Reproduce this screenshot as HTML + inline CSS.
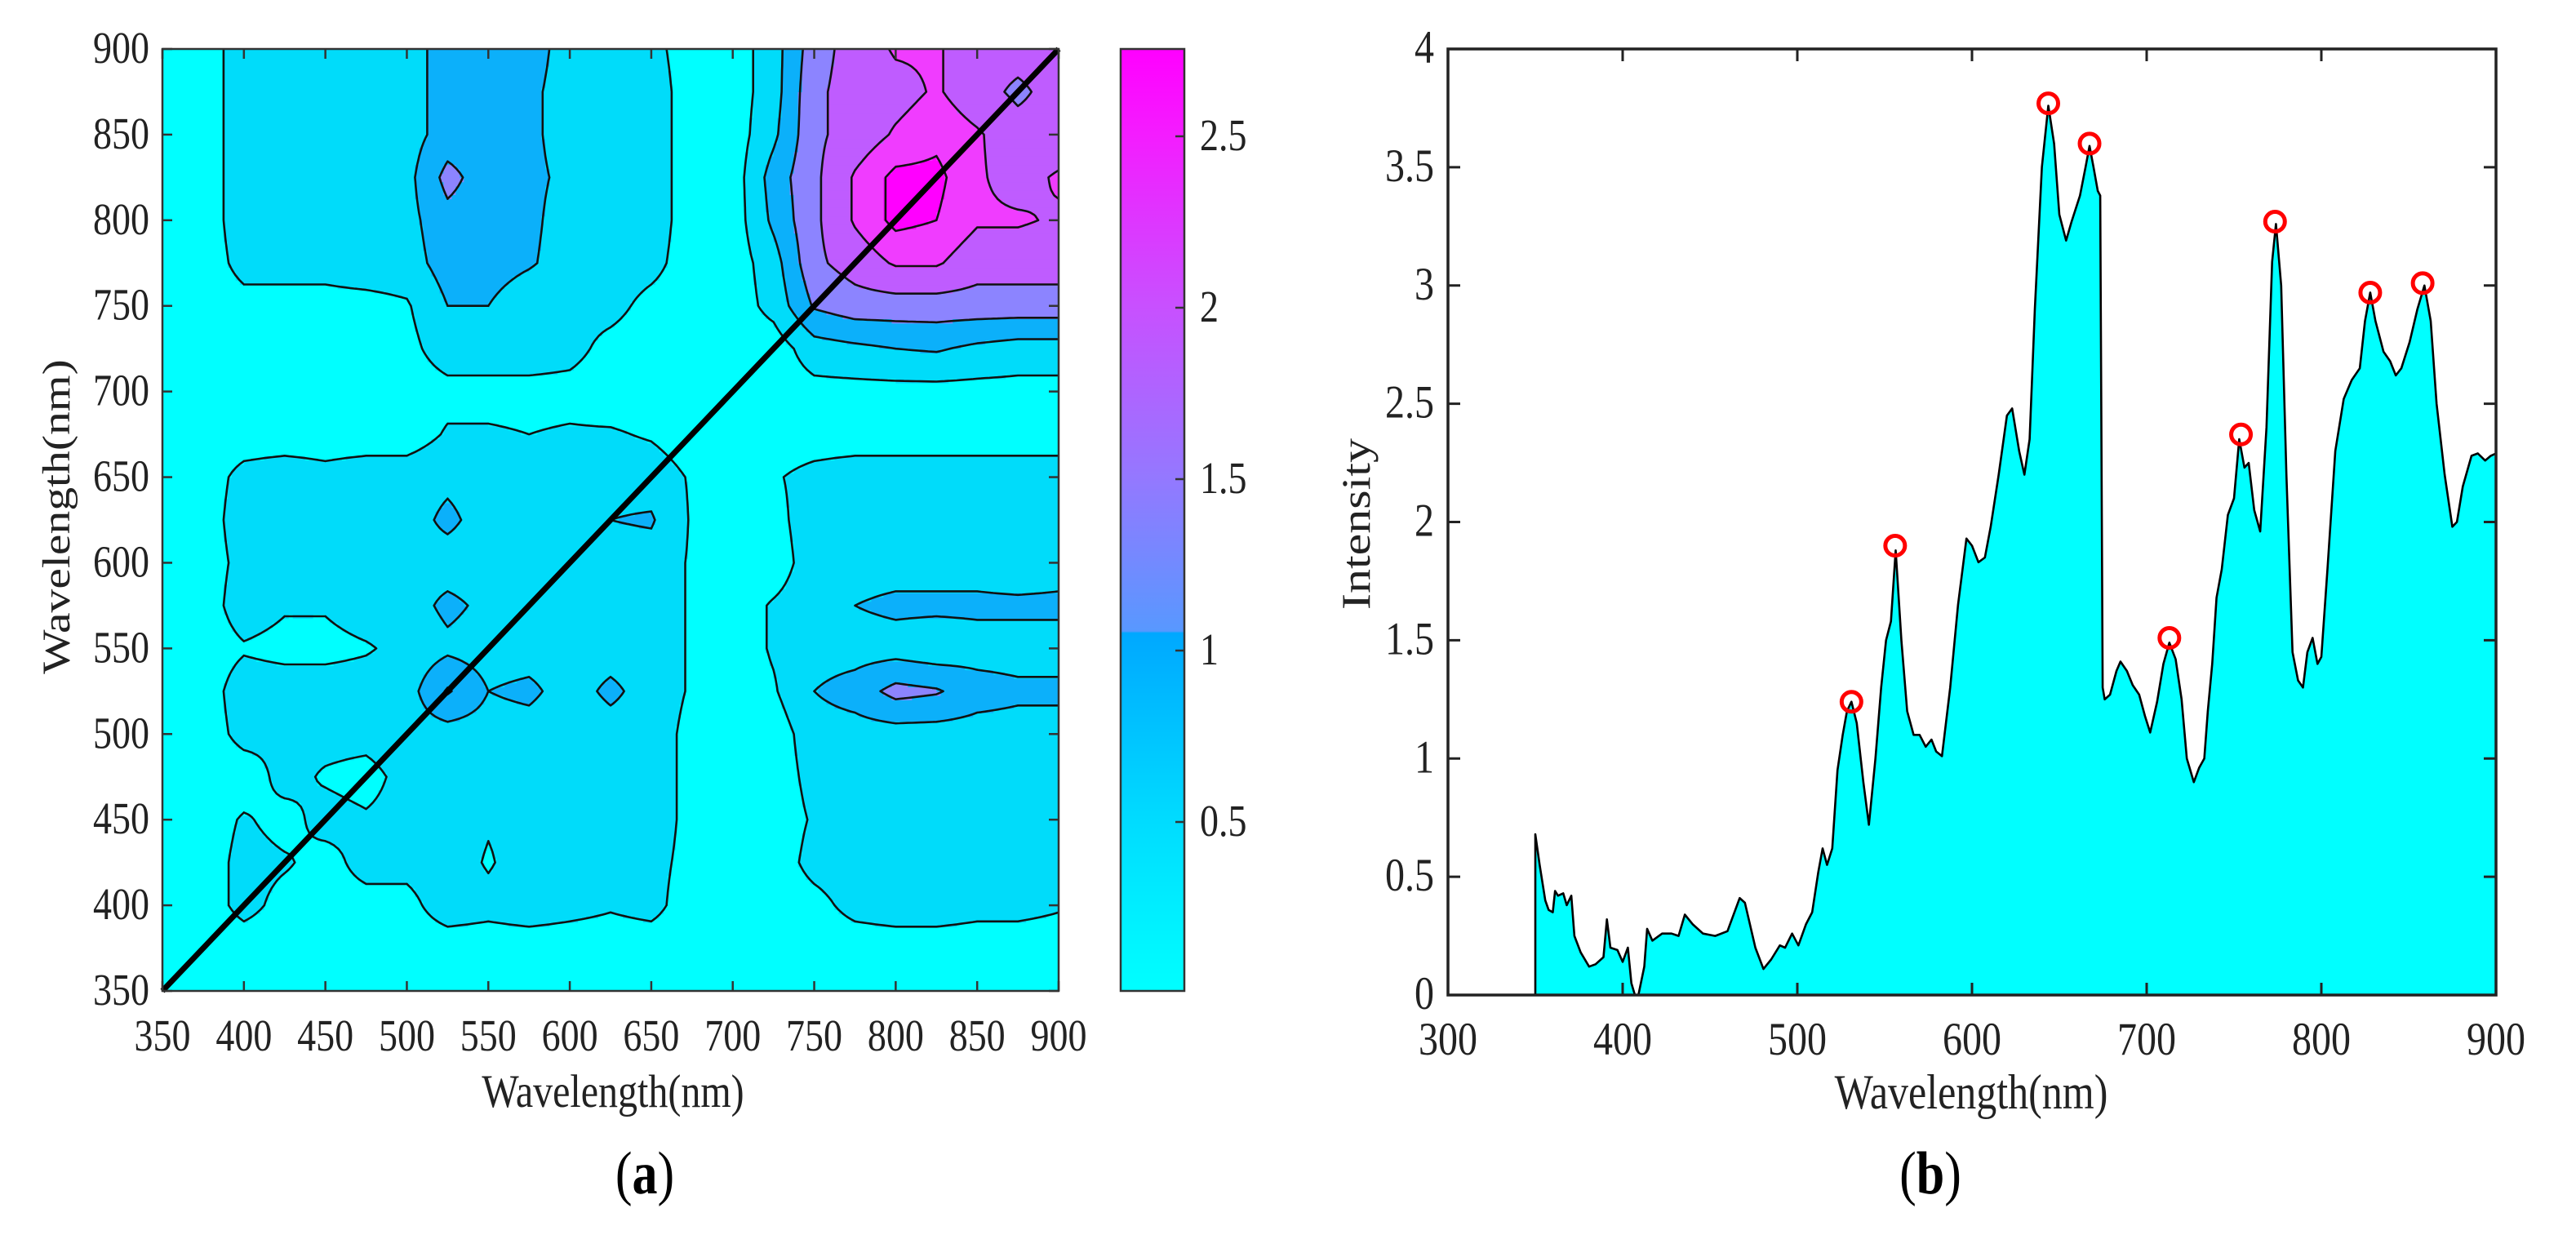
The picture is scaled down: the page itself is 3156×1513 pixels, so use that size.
<!DOCTYPE html>
<html><head><meta charset="utf-8"><title>2D correlation map and spectrum</title>
<style>
html,body{margin:0;padding:0;background:#fff;}
svg{display:block;}
text{font-family:"Liberation Serif","DejaVu Serif",serif;}
</style></head>
<body>
<svg id="fig" width="3156" height="1513" viewBox="0 0 3156 1513" xmlns="http://www.w3.org/2000/svg">
<defs>
<linearGradient id="cbgrad" x1="0" y1="1" x2="0" y2="0">
<stop offset="0" stop-color="#00ffff"/>
<stop offset="0.18" stop-color="#00dcff"/>
<stop offset="0.38" stop-color="#00a8ff"/>
<stop offset="0.382" stop-color="#5898ff"/>
<stop offset="0.545" stop-color="#9478ff"/>
<stop offset="0.727" stop-color="#c850ff"/>
<stop offset="0.91" stop-color="#f41cff"/>
<stop offset="1" stop-color="#ff00ff"/>
</linearGradient>
<clipPath id="clipA"><rect x="199" y="60" width="1098" height="1154"/></clipPath>
</defs>
<g id="panelA"></g>
<g id="panelB"></g>
</svg>
<script>
// ---------- Panel (a) data: 2D correlation map sampled every 25 nm ----------
const mapWavelengths = [350,375,400,425,450,475,500,525,550,575,600,625,650,675,700,725,750,775,800,825,850,875,900];
// rows from y = 900 nm (top) down to 350 nm (bottom); columns follow mapWavelengths
const mapRows = [
[.2,.2,.7,.7,.5,.7,.7,1.1,1.1,1.1,.7,.7,.6,.2,.2,.7,1.6,2.0,2.3,2.3,2.0,2.0,2.0],
[.2,.2,.7,.7,.5,.6,.7,1.1,1.1,1.0,.7,.7,.7,.2,.2,.7,1.7,2.0,2.1,2.3,2.0,1.7,2.0],
[.2,.2,.7,.7,.6,.7,.7,1.1,1.1,1.0,.7,.7,.7,.2,.2,.8,1.7,2.0,2.3,2.5,2.3,2.0,2.0],
[.2,.2,.7,.7,.7,.7,.75,1.5,1.1,1.0,.8,.7,.7,.2,.2,1.1,1.7,2.3,2.7,2.7,2.3,2.1,2.3],
[.2,.2,.7,.7,.7,.7,.75,1.2,1.1,1.0,.7,.7,.7,.2,.2,1.0,1.7,2.3,2.7,2.6,2.3,2.3,2.2],
[.2,.2,.6,.6,.6,.7,.7,1.1,1.1,.95,.7,.7,.6,.2,.2,.7,1.7,2.0,2.3,2.3,2.0,2.0,2.0],
[.2,.2,.3,.3,.3,.3,.4,.9,.9,.6,.6,.6,.3,.2,.2,.6,1.4,1.6,1.6,1.6,1.6,1.6,1.6],
[.2,.2,.2,.2,.2,.2,.3,.7,.7,.7,.6,.3,.2,.2,.2,.2,.7,.8,.9,.95,.8,.7,.7],
[.2,.2,.2,.2,.2,.2,.2,.3,.3,.3,.3,.2,.2,.2,.2,.2,.3,.3,.3,.3,.3,.3,.3],
[.2,.2,.2,.2,.2,.2,.2,.5,.5,.45,.5,.5,.4,.2,.2,.2,.2,.2,.2,.2,.2,.2,.2],
[.2,.2,.6,.7,.6,.7,.7,.8,.7,.7,.7,.75,.7,.4,.2,.4,.6,.7,.7,.7,.7,.7,.7],
[.2,.2,.7,.6,.5,.7,.7,1.0,.7,.7,.7,.9,.95,.4,.2,.3,.7,.7,.7,.7,.7,.7,.7],
[.2,.2,.6,.6,.6,.7,.8,.7,.7,.7,.5,.7,.7,.4,.2,.2,.7,.7,.7,.7,.7,.6,.7],
[.2,.2,.7,.5,.5,.7,.7,1.0,.8,.8,.7,.7,.7,.4,.2,.5,.7,.9,1.0,1.0,1.0,1.0,1.0],
[.2,.2,.4,.3,.3,.4,.6,.8,.7,.7,.7,.7,.7,.4,.2,.5,.7,.7,.7,.6,.7,.7,.7],
[.2,.2,.7,.7,.7,.7,.7,1.4,.9,1.0,.7,1.0,.7,.4,.2,.4,.9,1.1,1.5,1.4,1.1,1.0,1.0],
[.2,.2,.6,.5,.6,.6,.7,.7,.7,.7,.6,.7,.7,.3,.2,.2,.7,.7,.7,.7,.7,.7,.7],
[.2,.2,.2,.6,.4,.3,.6,.7,.7,.6,.6,.5,.7,.3,.2,.2,.6,.6,.7,.7,.7,.7,.7],
[.2,.2,.5,.3,.6,.5,.6,.7,.5,.6,.6,.6,.7,.3,.2,.2,.5,.7,.7,.7,.6,.5,.6],
[.2,.2,.6,.5,.3,.6,.6,.7,.4,.7,.6,.6,.6,.3,.2,.2,.6,.7,.7,.7,.7,.5,.6],
[.2,.2,.6,.3,.3,.3,.3,.7,.6,.7,.6,.5,.6,.2,.2,.2,.3,.6,.7,.7,.6,.6,.5],
[.2,.2,.2,.2,.2,.2,.2,.2,.2,.2,.2,.2,.2,.2,.2,.2,.2,.2,.2,.2,.2,.2,.2],
[.2,.2,.2,.2,.2,.2,.2,.2,.2,.2,.2,.2,.2,.2,.2,.2,.2,.2,.2,.2,.2,.2,.2]
];
const contourLevels = [0.45,0.9,1.35,1.8,2.25,2.6];
const mapTicks = [350,400,450,500,550,600,650,700,750,800,850,900];
const colorbarTicks = [0.5,1,1.5,2,2.5];

// ---------- Panel (b) data: spectrum ----------
const specWavelength = [350,350,352.5,355.7,357.6,360,361.3,363,366,368,370.6,372.4,376,380.8,384.5,389,391,393,397,400,403,405,407,409,412.4,414,417,422.6,428,432,435.6,440,446,453,460,467,470,476,480.6,485,490,493,497,500.6,505,508.5,512,514.5,517,520,523,526,528.4,531,534,537.8,541,544.7,548,550.8,553.6,556.3,559.6,562.9,566.6,570,573.5,576.8,579.5,582.8,587.5,592,596.8,600,603.7,607.4,610.7,615.3,620,623,627,630,633,636,640,643.7,647,650,653.9,657,661.8,665,667.3,669.6,672,673.4,674.8,676,679,682.7,685,688.7,692,695.7,699,702,706,709.6,713,716.6,720,723,727,730,733,735,737.5,740,743,746.5,750,753,756,758.4,761.6,765,768.6,771.8,774,777,780,783.5,786.7,789.5,792,795,797.8,800,803.5,808,812.8,817.4,822,825,828,831,835.6,839.4,842.6,845.8,850.5,855,859,862.6,866,870.6,875,877.6,881,886,889.6,893.8,897,900];
const specIntensity = [0,0.68,0.55,0.4,0.36,0.35,0.44,0.42,0.43,0.38,0.42,0.25,0.18,0.12,0.13,0.16,0.32,0.2,0.19,0.14,0.2,0.05,0,0,0.12,0.28,0.23,0.26,0.26,0.25,0.34,0.3,0.26,0.25,0.27,0.41,0.39,0.2,0.11,0.15,0.21,0.2,0.26,0.21,0.3,0.35,0.52,0.62,0.55,0.62,0.95,1.1,1.2,1.24,1.15,0.9,0.72,1.0,1.3,1.5,1.58,1.88,1.5,1.2,1.1,1.1,1.05,1.08,1.03,1.01,1.3,1.65,1.93,1.9,1.83,1.85,1.98,2.2,2.45,2.48,2.3,2.2,2.35,2.9,3.5,3.76,3.6,3.3,3.19,3.27,3.38,3.5,3.59,3.5,3.4,3.38,1.3,1.25,1.27,1.37,1.41,1.37,1.31,1.27,1.18,1.11,1.24,1.4,1.49,1.42,1.25,1.0,0.9,0.96,1.0,1.2,1.4,1.68,1.8,2.03,2.1,2.35,2.23,2.25,2.05,1.96,2.4,3.1,3.26,3.0,2.2,1.45,1.33,1.3,1.45,1.51,1.4,1.43,1.8,2.3,2.52,2.6,2.65,2.85,2.97,2.85,2.72,2.68,2.62,2.65,2.76,2.9,3.0,2.85,2.5,2.2,1.98,2.0,2.15,2.28,2.29,2.26,2.28,2.29];
const peakWavelength = [531,556,643.7,667.3,713,754,773.5,828,858];
const peakIntensity = [1.24,1.9,3.77,3.6,1.51,2.37,3.27,2.97,3.01];
const specXTicks = [300,400,500,600,700,800,900];
const specYTicks = [0,0.5,1,1.5,2,2.5,3,3.5,4];

const NS = 'http://www.w3.org/2000/svg';
function mk(tag, attrs, parent){
  const e = document.createElementNS(NS, tag);
  for (const k in attrs) e.setAttribute(k, attrs[k]);
  parent.appendChild(e);
  return e;
}
function txt(parent, s, x, y, size, anchor, weight){
  const t = mk('text', {transform:'translate('+x+','+y+') scale(1,1.2)', 'font-size':size, 'text-anchor':anchor||'middle', fill:'#222'}, parent);
  if (weight) t.setAttribute('font-weight', weight);
  t.textContent = s;
  return t;
}

// ===================== Panel A =====================
const A = document.getElementById('panelA');
const ax0 = 199, ax1 = 1297, ay0 = 1214, ay1 = 60;
const AX = nm => ax0 + (nm-350)*(ax1-ax0)/550;
const AY = nm => ay0 - (nm-350)*(ay0-ay1)/550;
function mapVal(xnm, ynm){
  let c = (xnm-350)/25, r = (900-ynm)/25;
  c = Math.max(0, Math.min(22, c)); r = Math.max(0, Math.min(22, r));
  const c0 = Math.min(21, Math.floor(c)), r0 = Math.min(21, Math.floor(r));
  const fc = c-c0, fr = r-r0;
  const a = mapRows[r0][c0], b = mapRows[r0][c0+1], d = mapRows[r0+1][c0], e = mapRows[r0+1][c0+1];
  return a*(1-fc)*(1-fr) + b*fc*(1-fr) + d*(1-fc)*fr + e*fc*fr;
}
const levelColors = ['#00ffff','#00dcfa','#0cb0fa','#8c84ff','#bf5cff','#f03cff','#ff00ff'];
function bin(v){ let k=0; while(k<contourLevels.length && v>=contourLevels[k]) k++; return k; }

const fillG = mk('g', {'clip-path':'url(#clipA)'}, A);


const step = 2.5, N = 550/step;
for (let j=0; j<N; j++){
  const yc = 350 + (j+0.5)*step;
  let runStart = 0, runBin = bin(mapVal(350+0.5*step, yc));
  for (let i=1; i<=N; i++){
    const b = i<N ? bin(mapVal(350+(i+0.5)*step, yc)) : -1;
    if (b !== runBin){
      const x1 = AX(350+runStart*step), x2 = AX(350+i*step);
      const yt = AY(350+(j+1)*step), yb = AY(350+j*step);
      mk('rect', {x:x1.toFixed(1), y:yt.toFixed(1), width:(x2-x1+0.6).toFixed(1), height:(yb-yt+0.6).toFixed(1), fill:levelColors[runBin]}, fillG);
      runStart = i; runBin = b;
    }
  }
}
// contour lines via marching squares
const grid = [];
for (let j=0; j<=N; j++){ const row=[]; for (let i=0;i<=N;i++) row.push(mapVal(350+i*step, 350+j*step)); grid.push(row); }
const lineG = mk('g', {'clip-path':'url(#clipA)'}, A);


contourLevels.forEach(L => {
  let d = '';
  const P = (i,j) => AX(350+i*step).toFixed(1)+','+AY(350+j*step).toFixed(1);
  for (let j=0;j<N;j++) for (let i=0;i<N;i++){
    const v0=grid[j][i], v1=grid[j][i+1], v2=grid[j+1][i+1], v3=grid[j+1][i];
    const pts=[];
    const edge=(va,vb,ia,ja,ib,jb)=>{ if((va<L)!==(vb<L)){ const t=(L-va)/(vb-va); pts.push(P(ia+(ib-ia)*t, ja+(jb-ja)*t)); } };
    edge(v0,v1,i,j,i+1,j); edge(v1,v2,i+1,j,i+1,j+1); edge(v2,v3,i+1,j+1,i,j+1); edge(v3,v0,i,j+1,i,j);
    if (pts.length===2) d += 'M'+pts[0]+'L'+pts[1];
    else if (pts.length===4) d += 'M'+pts[0]+'L'+pts[1]+'M'+pts[2]+'L'+pts[3];
  }
  const p = mk('path', {d:d, fill:'none', stroke:'#111', 'stroke-width':2.6, 'stroke-linecap':'round'}, lineG);
  
  
});
// diagonal
const diag = mk('line', {x1:AX(350), y1:AY(350), x2:AX(900), y2:AY(900), stroke:'#000', 'stroke-width':7}, A);


// frame
const frameA = mk('rect', {x:ax0, y:ay1, width:ax1-ax0, height:ay0-ay1, fill:'none', stroke:'#333', 'stroke-width':2.5}, A);


mapTicks.forEach(t => {
  const x = AX(t), y = AY(t);
  mk('line', {x1:x, y1:ay0, x2:x, y2:ay0-12, stroke:'#333', 'stroke-width':2.5}, A);
  mk('line', {x1:x, y1:ay1, x2:x, y2:ay1+12, stroke:'#333', 'stroke-width':2.5}, A);
  mk('line', {x1:ax0, y1:y, x2:ax0+12, y2:y, stroke:'#333', 'stroke-width':2.5}, A);
  mk('line', {x1:ax1, y1:y, x2:ax1-12, y2:y, stroke:'#333', 'stroke-width':2.5}, A);
  const tx = txt(A, String(t), x, 1287, 46, 'middle');
  
  
  const ty = txt(A, String(t), 183, y+17, 46, 'end');
  
  
});
const xtA = txt(A, 'Wavelength(nm)', 751, 1356, 48, 'middle');


const ytA = mk('text', {transform:'translate(85,633) rotate(-90) scale(1.2,1)', 'font-size':48, 'text-anchor':'middle', fill:'#222'}, A);
ytA.textContent = 'Wavelength(nm)';


// colorbar
const cb = mk('rect', {x:1373, y:60, width:78, height:1154, fill:'url(#cbgrad)', stroke:'#333', 'stroke-width':2.5}, A);


colorbarTicks.forEach(v => {
  const y = 1217 - v*420;
  mk('line', {x1:1451, y1:y, x2:1440, y2:y, stroke:'#333', 'stroke-width':2.5}, A);
  const t = txt(A, String(v), 1470, y+17, 46, 'start');
  
  
});
const capA = mk('text', {transform:'translate(790,1462) scale(1,1.2)', 'font-size':62, 'text-anchor':'middle', fill:'#000'}, A);
capA.innerHTML = '(<tspan font-weight="bold">a</tspan>)';



// ===================== Panel B =====================
const B = document.getElementById('panelB');
const bx0 = 1774, bx1 = 3058, by0 = 1219, by1 = 60;
const BX = nm => bx0 + (nm-300)*(bx1-bx0)/600;
const BY = v => by0 - v*(by0-by1)/4;
let d = 'M'+BX(specWavelength[0])+','+BY(0);
for (let k=0;k<specWavelength.length;k++) d += 'L'+BX(specWavelength[k]).toFixed(1)+','+BY(specIntensity[k]).toFixed(1);
d += 'L'+BX(900)+','+BY(0)+'Z';
const area = mk('path', {d:d, fill:'#00ffff', stroke:'#000', 'stroke-width':2.6, 'stroke-linejoin':'round'}, B);


peakWavelength.forEach((w,k) => {
  const c = mk('circle', {cx:BX(w), cy:BY(peakIntensity[k]), r:12, fill:'none', stroke:'#ff0000', 'stroke-width':5}, B);
  
  
});
const frameB = mk('rect', {x:bx0, y:by1, width:bx1-bx0, height:by0-by1, fill:'none', stroke:'#222', 'stroke-width':3.5}, B);


specXTicks.forEach(t => {
  const x = BX(t);
  mk('line', {x1:x, y1:by0, x2:x, y2:by0-15, stroke:'#222', 'stroke-width':3}, B);
  mk('line', {x1:x, y1:by1, x2:x, y2:by1+15, stroke:'#222', 'stroke-width':3}, B);
  const tl = txt(B, String(t), x, 1292, 48, 'middle');
  
  
});
specYTicks.forEach(v => {
  const y = BY(v);
  mk('line', {x1:bx0, y1:y, x2:bx0+15, y2:y, stroke:'#222', 'stroke-width':3}, B);
  mk('line', {x1:bx1, y1:y, x2:bx1-15, y2:y, stroke:'#222', 'stroke-width':3}, B);
  const tl = txt(B, String(v), 1757, y+17, 48, 'end');
  
  
});
const xtB = txt(B, 'Wavelength(nm)', 2415, 1358, 50, 'middle');


const ytB = mk('text', {transform:'translate(1678,642) rotate(-90) scale(1.2,1)', 'font-size':50, 'text-anchor':'middle', fill:'#222'}, B);
ytB.textContent = 'Intensity';


const capB = mk('text', {transform:'translate(2365,1462) scale(1,1.2)', 'font-size':62, 'text-anchor':'middle', fill:'#000'}, B);
capB.innerHTML = '(<tspan font-weight="bold">b</tspan>)';


</script>
</body></html>
